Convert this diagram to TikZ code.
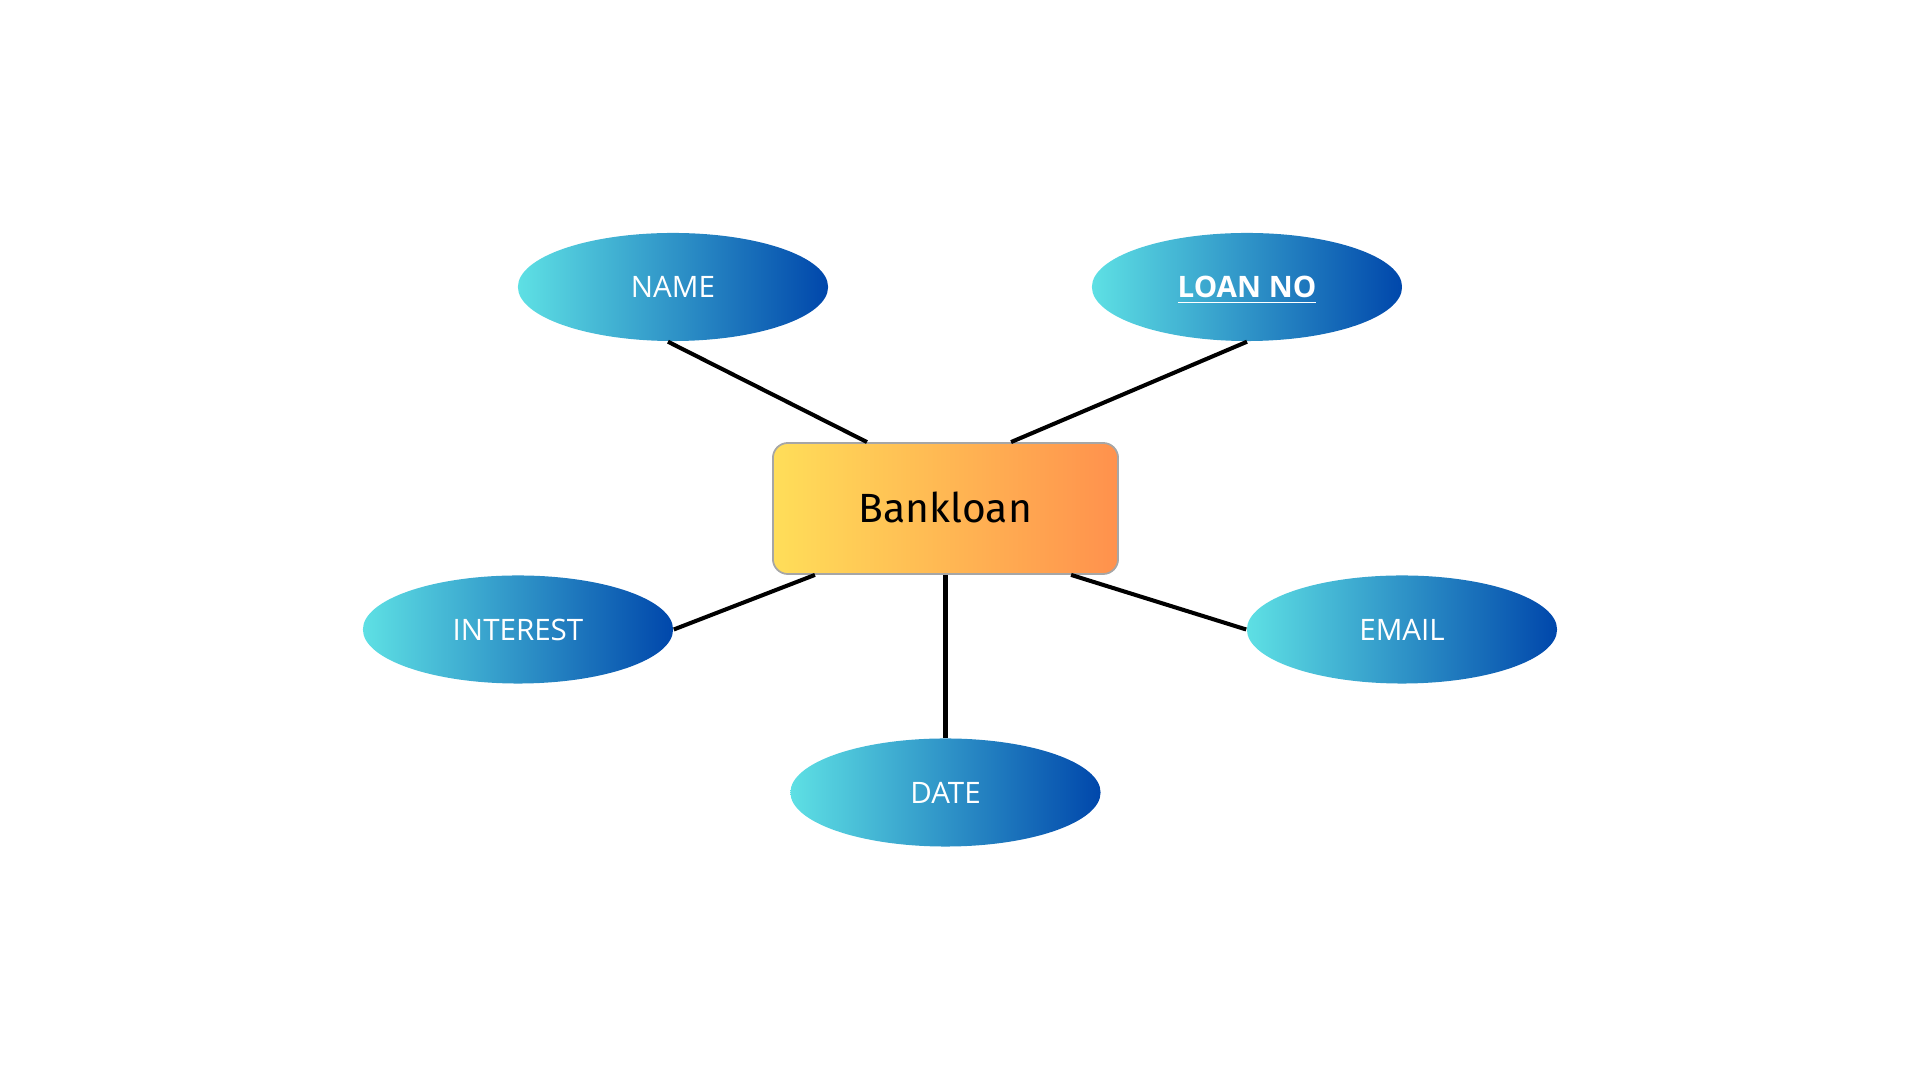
\documentclass[tikz,border=0pt]{standalone}
\usepackage{fontspec}
\setmainfont{Open Sans}
\newfontfamily\boxfont{Fira Sans}
\usetikzlibrary{shapes.geometric}

\definecolor{attrleft}{HTML}{5EE0E4}
\definecolor{attrright}{HTML}{0047AB}
\definecolor{entleft}{HTML}{FFDE59}
\definecolor{entright}{HTML}{FF914D}
\definecolor{entborder}{HTML}{A6A6A6}

\begin{document}
\begin{tikzpicture}[x=0.01cm, y=-0.01cm,
    attr/.style={ellipse, minimum width=3.1cm, minimum height=1.08cm, inner sep=0pt,
        left color=attrleft, right color=attrright, text=white,
        text height=6pt, text depth=0pt,
        font=\fontsize{8.4}{10}\selectfont},
    entity/.style={rectangle, rounded corners=0.15cm, minimum width=3.45cm, minimum height=1.31cm,
        draw=entborder, line width=0.5pt, left color=entleft, right color=entright,
        text height=8pt, text depth=0pt,
        font=\boxfont\fontsize{11.6}{14}\selectfont},
    link/.style={line width=1.15pt}]

        \useasboundingbox (0,0) rectangle (1920,1080);

        % nodes
        \node[entity] (bank) at (945.5,508.5) {Bankloan};
        \node[attr] (name) at (673,287) {NAME};
        \node[attr] (loanno) at (1247,287) {\textbf{\underline{LOAN NO}}};
        \node[attr] (interest) at (518,629.5) {INTEREST};
        \node[attr] (email) at (1402,629.5) {EMAIL};
        \node[attr] (date) at (945.5,792.5) {DATE};

        % edges to the top
        \draw[link] ([xshift=-0.05cm]name.south) -- ([xshift=-0.785cm]bank.north);
        \draw[link] (loanno.south) -- ([xshift=0.655cm]bank.north);

        % edges to the sides
        \draw[link] (interest.east) -- ([xshift=-1.305cm]bank.south);
        \draw[link] (email.west) -- ([xshift=1.255cm]bank.south);

        % edge to date
        \draw[link] (bank.south) -- (date.north);

        \end{tikzpicture}
\end{document}
